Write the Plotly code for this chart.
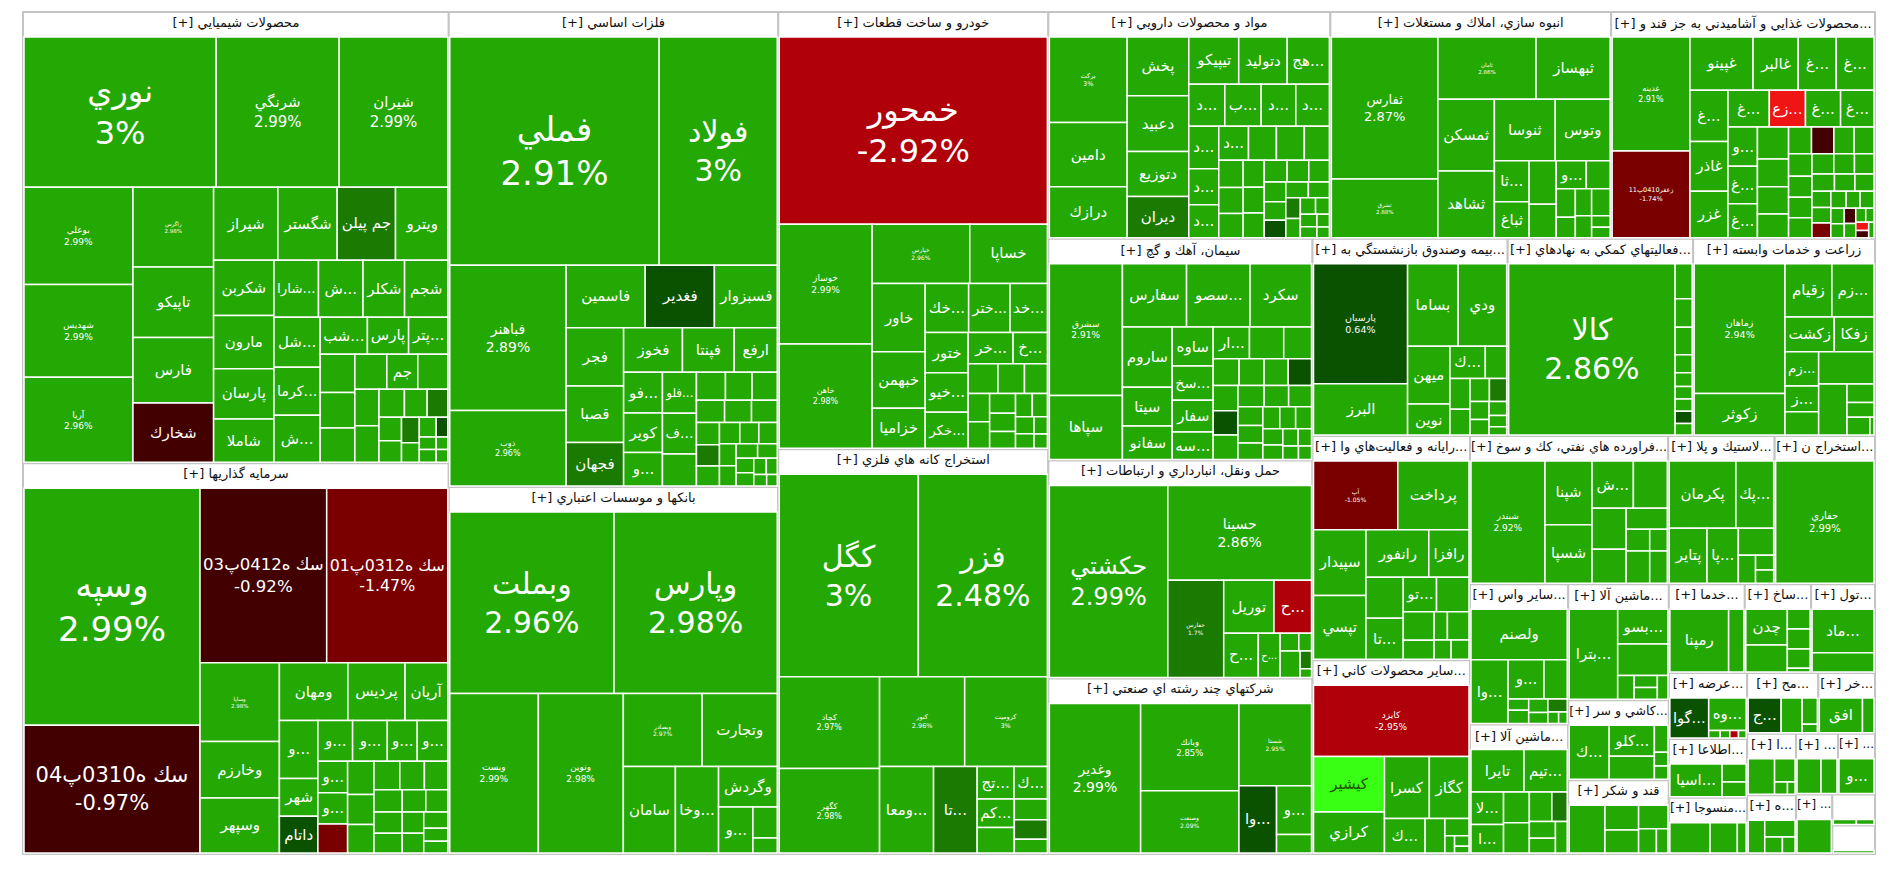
import plotly.graph_objects as go

# ---------------- sectors (header names as shown, relative size) -------------
sector_names = [
    "محصولات شيميايي", "سرمايه گذاريها", "فلزات اساسي", "بانكها و موسسات اعتباري",
    "خودرو و ساخت قطعات", "استخراج كانه هاي فلزي", "مواد و محصولات دارويي",
    "انبوه سازي، املاك و مستغلات", "محصولات غذايي و آشاميدني به جز قند و...",
    "سيمان، آهك و گچ", "حمل ونقل، انبارداري و ارتباطات", "شركتهاي چند رشته اي صنعتي",
    "بيمه وصندوق بازنشستگي به...", "فعاليتهاي كمكي به نهادهاي...", "زراعت و خدمات وابسته",
    "رايانه و فعاليت‌هاي وا...", "ساير محصولات كاني...", "فراورده هاي نفتي، كك و سوخ...",
    "لاستيك و پلا...", "استخراج ن...", "ساير واس...", "ماشين آلا...", "ماشين آلا...",
    "كاشي و سر...", "قند و شكر", "خدما...", "ساخ...", "تول...", "عرضه...", "اطلاعا...",
    "منسوجا...", "مح...", "خر...", "ا...", "ه...", "...", "...", "...", "", "",
]
sector_totals = [
    130944, 113344, 106624, 82416, 80503, 74482, 43571, 43384, 40766, 39894, 39240, 31610,
    26243, 24939, 24450, 24050, 20800, 20008, 10736, 10126, 9396, 8667, 7968, 5478, 5063,
    4599, 4015, 3869, 3520, 3136, 3000, 2950, 2350, 2040, 1960, 1734, 1530, 1470, 900, 830,
]

# ---------------- stocks: (symbol, relative size, % change) ----------------
chem = [
    ("نوري", 28100, 3.0), ("شرنگي", 17970, 2.99), ("شيران", 15870, 2.99),
    ("بوعلي", 10280, 2.99), ("شهديس", 9850, 2.99), ("آريا", 9000, 2.96),
    ("زاگرس", 6240, 2.98), ("تاپيكو", 5530, 2.9), ("فارس", 5135, 2.9), ("شخارك", 4660, -0.9),
    ("شيراز", 4550, 2.9), ("شگستر", 4200, 2.9), ("جم پيلن", 4130, 1.5), ("ويترو", 3700, 2.9),
    ("شكربن", 3245, 2.9), ("مارون", 3127, 2.9), ("پارسان", 2950, 2.9), ("شاملا", 2537, 2.9),
    ("...شارا", 2475, 2.9), ("...ش", 2475, 2.9), ("شكلر", 2310, 2.9), ("شجم", 2400, 2.9),
    ("...شل", 2250, 2.9), ("...كرما", 2160, 2.9), ("...ش", 2115, 2.9),
    ("...شب", 1692, 2.9), ("پارس", 1476, 2.9), ("...پتر", 1404, 2.9),
    ("", 1292, 2.9), ("", 1190, 2.9), ("", 1156, 2.9),
    ("", 1088, 2.9), ("جم", 1054, 2.9), ("", 1020, 2.9),
    ("", 858, 2.9), ("", 858, 2.9), ("", 693, 2.9),
    ("", 620, 2.9), ("", 560, 1.5), ("", 513, 2.9), ("", 475, 2.9),
    ("", 440, 1.5), ("", 340, 2.9), ("", 323, 2.9), ("", 221, 0.5),
    ("", 209, 2.9), ("", 209, 2.9), ("", 143, 2.9), ("", 143, 2.9),
]
chem_pct = {"نوري": 32, "شرنگي": 15, "شيران": 15, "بوعلي": 9, "شهديس": 9, "آريا": 9, "زاگرس": 5.5}

invest = [
    ("وسپه", 237614, 2.99), ("سك ه0310پ04", 128102, -0.97),
    ("سك ه0412پ03", 125984, -0.92), ("سك ه0312پ01", 120396, -1.47),
    ("وساپا", 35568, 2.98), ("وخارزم", 25536, 2.9), ("وسپهر", 24928, 2.9),
    ("ومهان", 22477, 2.9), ("پرديس", 18759, 2.9), ("آريان", 14027, 2.9),
    ("...و", 12728, 2.9), ("شهر", 8288, 2.9), ("داتام", 8066, 0.5),
    ("...و", 8052, 2.9), ("...و", 8052, 2.9), ("...و", 6954, 2.9), ("...و", 7076, 2.9),
    ("...و", 5336, 2.9), ("...و", 5278, 2.9), ("", 4930, -1.5),
    ("", 5000, 2.9), ("", 4500, 2.9), ("", 4300, 2.9), ("", 4200, 2.9), ("", 4000, 2.9),
    ("", 3800, 2.9), ("", 3600, 2.9), ("", 3400, 2.9), ("", 3200, 2.9), ("", 3000, 2.9),
    ("", 2800, 2.9), ("", 2600, 2.9), ("", 2400, 2.9), ("", 2200, 2.9), ("", 1800, 2.9),
    ("", 1600, 2.9),
]
invest_pct = {"وسپه": 34, "سك ه0310پ04": 21, "سك ه0412پ03": 21, "سك ه0312پ01": 21, "وساپا": 5.5}

metal = [
    ("فملي", 353090, 2.91), ("فولاد", 198990, 3.0), ("فباهنر", 125086, 2.89), ("ذوب", 64807, 2.96),
    ("فاسمين", 36600, 2.9), ("فغدير", 32025, 0.5), ("فسبزوار", 29097, 2.9),
    ("فجر", 24675, 2.9), ("قصبا", 23970, 2.9), ("فجهان", 18471, 1.5),
    ("فخوز", 19370, 2.9), ("فپنتا", 17030, 2.9), ("ارفع", 14170, 2.9),
    ("...فو", 11685, 2.9), ("كوير", 11305, 2.9), ("...و", 9595, 2.9),
    ("...فلو", 10290, 2.9), ("...ف", 10192, 2.9), ("", 8036, 2.9),
    ("", 6000, 2.9), ("", 5500, 2.9), ("", 5200, 2.9), ("", 4600, 2.9), ("", 4400, 2.9),
    ("", 4200, 2.9), ("", 3800, 2.9), ("", 3600, 1.5), ("", 3400, 2.9), ("", 3200, 2.9),
    ("", 3000, 2.9), ("", 2900, 2.9), ("", 2700, 2.9), ("", 2500, 2.9), ("", 2300, 2.9),
    ("", 2100, 2.9), ("", 1900, 2.9), ("", 1700, 2.9), ("", 1500, 2.9), ("", 1300, 2.9),
    ("", 1100, 2.9), ("", 900, 2.9),
]
metal_pct = {"فملي": 34, "فولاد": 30, "فباهنر": 14, "ذوب": 8}

bank = [
    ("وبملت", 168432, 2.96), ("وپارس", 167376, 2.98), ("وبست", 79768, 2.99), ("ونوين", 76464, 2.98),
    ("وبصادر", 32436, 2.97), ("وتجارت", 30952, 2.9), ("سامان", 25443, 2.9), ("...وخا", 21074, 2.9),
    ("وگردش", 13455, 2.9), ("...و", 8905, 2.9), ("", 4230, 2.9), ("", 2068, 2.9),
]
bank_pct = {"وبملت": 30, "وپارس": 30, "وبست": 9, "ونوين": 9, "وبصادر": 6}

auto = [
    ("خمحور", 370150, -2.92), ("خوساز", 82080, 2.99), ("خاهن", 71592, 2.98),
    ("خپارس", 42700, 2.96), ("خساپا", 33950, 2.9),
    ("خاور", 26724, 2.9), ("خبهمن", 22139, 2.9), ("خزاميا", 15720, 2.9),
    ("...خك", 15729, 2.9), ("...ختر", 14994, 2.9), ("...خد", 13524, 2.9),
    ("ختور", 12733, 2.9), ("...خيو", 12519, 2.9), ("...خكر", 11449, 2.9),
    ("...خر", 10340, 2.9), ("...خ", 7896, 2.9),
    ("", 6500, 2.9), ("", 5800, 2.9), ("", 5000, 2.9), ("", 4500, 2.9), ("", 4200, 2.9),
    ("", 3800, 2.9), ("", 3500, 2.9), ("", 3200, 2.9), ("", 2900, 2.9), ("", 2600, 2.9),
    ("", 2300, 2.9), ("", 2000, 2.9), ("", 1700, 2.9), ("", 1400, 2.9),
]
auto_pct = {"خمحور": 32, "خوساز": 9, "خاهن": 8, "خپارس": 6}

mine = [
    ("كگل", 236810, 3.0), ("فزر", 219555, 2.48), ("كچاد", 77259, 2.97), ("كگهر", 71316, 2.98),
    ("كنور", 64172, 2.96), ("كروميت", 62331, 3.0), ("...ومعا", 39260, 2.9), ("...تا", 31720, 1.5),
    ("...تج", 10070, 2.9), ("...ك", 9120, 2.9), ("...كم", 8904, 2.9), ("", 7950, 2.9),
    ("", 5760, 2.9), ("", 5376, 1.5), ("", 3840, 2.9),
]
mine_pct = {"كگل": 30, "فزر": 30, "كچاد": 8, "كگهر": 8, "كنور": 6.5, "كروميت": 6.5}

pharma = [
    ("بركت", 55000, 3.0), ("دامين", 41200, 2.9), ("درازك", 32800, 2.9),
    ("پخش", 29929, 2.9), ("دعبيد", 28372, 2.9), ("دتوزيع", 22836, 2.9), ("ديران", 21000, 1.5),
    ("تيپيكو", 19458, 2.9), ("دتوليد", 18906, 2.9), ("...هج", 16422, 2.9),
    ("...د", 12524, 2.9), ("...ب", 12648, 2.9), ("...د", 12028, 2.9), ("...د", 11656, 2.9),
    ("...د", 10492, 2.9), ("...د", 8944, 2.9), ("...د", 8170, 2.9),
    ("...د", 8364, 2.9), ("", 7854, 2.9), ("", 7854, 2.9), ("", 7038, 2.9),
    ("", 5500, 2.9), ("", 5200, 2.9), ("", 4900, 2.9), ("", 4700, 2.9), ("", 4500, 2.9),
    ("", 4300, 2.9), ("", 4100, 2.9), ("", 3900, 2.9), ("", 3700, 2.9), ("", 3500, 2.9),
    ("", 3300, 2.9), ("", 3100, 0.5), ("", 2900, 2.9), ("", 2700, 2.9), ("", 2500, 1.5),
    ("", 2300, 2.9), ("", 2100, 2.9), ("", 1900, 2.9), ("", 1700, 2.9), ("", 1500, 2.9),
    ("", 1300, 2.9), ("", 1100, 2.9),
]
pharma_pct = {"بركت": 6.5}

house = [
    ("ثفارس", 14560, 2.87), ("ثشرق", 6032, 2.88), ("ثامان", 5880, 2.86), ("ثبهساز", 4440, 2.9),
    ("ثمسكن", 3905, 2.9), ("ثشاهد", 3630, 2.9), ("ثنوسا", 3599, 2.9), ("وتوس", 3245, 2.9),
    ("...ثا", 1374, 2.9), ("ثباغ", 1206, 2.9), ("", 1140, 2.9), ("", 875, 2.9),
    ("...و", 812, 2.9), ("", 644, 2.9), ("", 525, 2.9), ("", 375, 2.9), ("", 425, 2.9),
    ("", 483, 2.9), ("", 345, 2.9), ("", 204, 2.9), ("", 187, 2.9),
]
house_pct = {"ثفارس": 13, "ثشرق": 5.5, "ثامان": 5.5}

food = [
    ("غدينه", 75710, 2.91), ("زعفر0410پ11", 57630, -1.74),
    ("غپينو", 28704, 2.9), ("غالبر", 20592, 2.9), ("...غ", 17316, 2.9), ("...غ", 17160, 2.9),
    ("...غ", 16576, 2.9), ("غاذر", 16128, 2.9), ("غزر", 15120, 2.9),
    ("...غ", 12960, 2.9), ("...زع", 11340, -4.0), ("...غ", 11016, 2.9), ("...غ", 10476, 2.9),
    ("...و", 9856, 2.9), ("...غ", 9416, 2.9), ("...غ", 8536, 2.9),
    ("", 8460, 2.9), ("", 7426, 2.9), ("", 7238, 2.9), ("", 6298, 2.9),
    ("", 5208, 2.9), ("", 5084, -0.9), ("", 4588, 2.9), ("", 4526, 2.9), ("", 4526, 2.9),
    ("", 4161, 2.9), ("", 4088, 2.9), ("", 4012, 2.9), ("", 3800, 2.9), ("", 3600, 2.9),
    ("", 3400, 2.9), ("", 3300, 2.9), ("", 3000, 2.9), ("", 2800, 2.9), ("", 2600, 2.9),
    ("", 2500, 2.9), ("", 2378, -1.5), ("", 2200, 2.9), ("", 2000, 2.9), ("", 2000, 2.9),
    ("", 1800, 2.9), ("", 1600, 2.9), ("", 1500, -0.9), ("", 1400, 2.9), ("", 1200, 2.9),
    ("", 1000, 2.9), ("", 900, -4.0), ("", 800, -0.9), ("", 700, 2.9),
]
food_pct = {"غدينه": 8, "زعفر0410پ11": 6.5}

cement = [
    ("سشرق", 83205, 2.91), ("سپاها", 40420, 2.9),
    ("سفارس", 35136, 2.9), ("...سصو", 34770, 2.9), ("سكرد", 33672, 2.9),
    ("ساروم", 25900, 2.9), ("سيتا", 16724, 2.9), ("سفانو", 14356, 2.9),
    ("ساوه", 13786, 2.9), ("...سخ", 12200, 2.9), ("سفار", 11224, 2.9), ("...سه", 9700, 2.9),
    ("...ار", 9951, 2.9), ("", 9393, 2.9), ("", 7626, 2.9),
    ("", 6000, 2.9), ("", 5800, 2.9), ("", 5600, 2.9), ("", 5400, 0.5), ("", 5400, 2.9),
    ("", 5200, 0.5), ("", 5200, 2.9), ("", 4800, 2.9), ("", 4500, 2.9), ("", 4200, 2.9),
    ("", 4000, 2.9), ("", 3800, 2.9), ("", 3500, 2.9), ("", 3200, 2.9), ("", 3000, 2.9),
    ("", 3000, 2.9), ("", 2800, 2.9), ("", 2500, 2.9), ("", 2300, 2.9), ("", 2000, 2.9),
    ("", 1800, 2.9), ("", 1500, 2.9),
]
cement_pct = {"سشرق": 9}

trans = [
    ("حكشتي", 187928, 2.99), ("حسينا", 112560, 2.86), ("حفارس", 44872, 1.7),
    ("توريل", 22046, 2.9), ("...ح", 16459, -2.9), ("...ح", 12610, 2.9), ("...ح", 7954, 2.9),
    ("", 2726, 2.9), ("", 1856, 2.9), ("", 4365, 2.9), ("", 1665, 1.5), ("", 810, 2.9),
]
trans_pct = {"حكشتي": 24, "حسينا": 14, "حفارس": 6}

multi = [
    ("وغدير", 114840, 2.99), ("وبانك", 72165, 2.85), ("وصنعت", 51506, 2.09),
    ("شستا", 50218, 2.95), ("...وا", 21293, 0.5), ("...و", 14342, 2.9), ("", 5454, 2.9),
]
multi_pct = {"وغدير": 14, "وبانك": 8.5, "وصنعت": 6, "شستا": 6}

insur = [
    ("پارسيان", 91520, 0.64), ("البرز", 39000, 2.9), ("بساما", 33840, 2.9), ("ودي", 32400, 2.9),
    ("ميهن", 19824, 2.9), ("نوين", 10620, 2.9), ("...ك", 9216, 2.9), ("", 5568, 2.9),
    ("", 5000, 2.9), ("", 4200, 2.9), ("", 3600, 2.9), ("", 3200, 1.5), ("", 2800, 2.9),
    ("", 2400, 2.9), ("", 2000, 2.9), ("", 1600, 2.9), ("", 1200, 2.9),
]
insur_pct = {"پارسيان": 9.5}

aux = [
    ("كالا", 33345, 2.86), ("", 693, 2.9), ("", 567, 2.9), ("", 546, 2.9), ("", 357, 2.9),
    ("", 273, 2.9), ("", 252, 2.9), ("", 242, 2.9), ("", 242, 0.5), ("", 231, 2.9),
]
aux_pct = {"كالا": 30}

agri = [
    ("زماهان", 98040, 2.94), ("زكوثر", 31476, 2.9), ("زقيام", 20824, 2.9), ("...زم", 18696, 2.9),
    ("زكشت", 14256, 2.9), ("زفكا", 11484, 2.9), ("...زم", 9555, 2.9), ("...ز", 7189, 2.9),
    ("", 6552, 2.9), ("", 14760, 2.9), ("", 12060, 2.9), ("", 4160, 2.9), ("", 3360, 2.9),
    ("", 3380, 2.9), ("", 600, 2.9),
]
agri_pct = {"زماهان": 9.5}

comp = [
    ("آپ", 41535, -1.05), ("پرداخت", 35100, 2.9), ("سپيدار", 24704, 2.9), ("تپسي", 23936, 2.9),
    ("رانفور", 21330, 2.9), ("رافزا", 13635, 2.9), ("", 11011, 2.9), ("...تا", 10920, 2.9),
    ("...تو", 8217, 2.9), ("", 8019, 2.9), ("", 6314, 2.9), ("", 4182, 2.9), ("", 2706, 2.9),
    ("", 4389, 2.9), ("", 2337, 2.9), ("", 2451, 2.9),
]
comp_pct = {"آپ": 6}

mineral = [
    ("كايزد", 79992, -2.95), ("كيشير", 28525, 5.0), ("كرازي", 21000, 2.9), ("كسرا", 20160, 2.9),
    ("كگاز", 17820, 2.9), ("...ك", 10088, 2.9), ("", 4914, 2.9), ("", 3000, 2.9),
    ("", 1200, 2.9), ("", 1080, 2.9), ("", 705, 2.9),
]
mineral_pct = {"كايزد": 9}

petro = [
    ("شبندر", 64610, 2.92), ("شپنا", 21411, 2.9), ("شسپا", 19656, 2.9), ("...ش", 13965, 2.9),
    ("", 11438, 2.9), ("", 10030, 2.9), ("", 8245, 2.9), ("", 6148, 2.9), ("", 3658, 2.9),
    ("", 2728, 2.9), ("", 5428, 2.9), ("", 4048, 2.9),
]
petro_pct = {"شبندر": 9}

rubber = [
    ("پكرمان", 32870, 2.9), ("...پك", 18620, 2.9), ("پتاير", 15200, 2.9), ("...پا", 12640, 2.9),
    ("", 6975, 2.9), ("", 3526, 2.9), ("", 1974, 2.9), ("", 1739, 2.9),
]
oil = [("حفاري", 85200, 2.99)]
oil_pct = {"حفاري": 10}

other_inter = [
    ("ولصنم", 33600, 2.9), ("...وا", 16269, 2.9), ("...و", 9680, 2.9), ("", 6270, 2.9),
    ("", 1591, 2.9), ("", 1887, 2.9), ("", 1776, 2.9), ("", 1462, 2.9), ("", 1734, 1.5),
    ("", 850, 2.9), ("", 680, 2.9),
]
elec_mach = [
    ("تايرا", 15340, 2.9), ("...تيم", 12508, 2.9), ("...لا", 7161, 2.9), ("...ا", 6314, 2.9),
    ("", 5368, 2.9), ("", 5307, 2.9), ("", 4512, 2.9), ("", 3082, 1.5), ("", 2948, 2.9),
    ("", 2622, 2.9), ("", 2508, 2.9),
]
machinery = [
    ("...بترا", 29670, 2.9), ("...بسو", 11875, 2.9), ("", 10750, 2.9), ("", 2660, 2.9),
    ("", 1890, 2.9), ("", 1855, 2.9), ("", 1696, 2.9),
]
tile_ind = [
    ("...ك", 14100, 2.9), ("...كلو", 9156, 2.9), ("", 6758, 2.9), ("", 2376, 2.9),
    ("", 1221, 2.9), ("", 1155, 2.9),
]
sugar = [("", 11088, 2.9), ("", 5427, 2.9), ("", 5022, 2.9), ("", 4464, 2.9), ("", 2814, 2.9), ("", 1809, 2.9)]
services = [("رمپنا", 25431, 2.9), ("", 6574, 2.9)]
metal_prod = [("چدن", 9894, 2.9), ("", 7446, 2.9), ("", 3016, 2.9), ("", 3016, 2.9), ("", 2900, 2.9), ("", 580, 2.9)]
tool = [("...ماد", 18832, 2.9), ("", 8272, 2.9)]
power = [("...گوا", 10670, 0.5), ("...وه", 8352, 2.9), ("", 600, 2.9), ("", 500, 2.9), ("", 450, -2.9), ("", 400, 2.9)]
info = [("...اسيا", 11960, 2.9), ("", 3036, 2.9), ("", 2484, 2.9)]
textile = [("", 8000, 2.9), ("", 5440, 2.9), ("", 1760, 2.9)]
wood = [("...ج", 7360, 0.5), ("", 4692, 2.9), ("", 2546, 2.9), ("", 836, 2.9)]
retail = [("افق", 9660, 2.9), ("", 2576, 2.9)]
sec34 = [("", 6000, 2.9), ("", 3038, 2.9), ("", 1015, 2.9), ("", 595, 2.9)]
sec35 = [("", 3420, 2.9), ("", 3230, 2.9), ("", 1768, 2.9), ("", 1258, 2.9)]
sec36 = [("", 5700, 2.9), ("", 3800, 2.9)]
sec37 = [("...و", 8700, 2.9)]
sec38 = [("", 7980, 2.9)]
sec39 = [("", 3960, 2.9), ("", 3024, 2.9)]
sec40 = [("", 2200, 2.9)]

leaf_tables = [chem, invest, metal, bank, auto, mine, pharma, house, food, cement, trans, multi,
               insur, aux, agri, comp, mineral, petro, rubber, oil, other_inter, elec_mach,
               machinery, tile_ind, sugar, services, metal_prod, tool, power, info, textile,
               wood, retail, sec34, sec35, sec36, sec37, sec38, sec39, sec40]
pct_fonts = [chem_pct, invest_pct, metal_pct, bank_pct, auto_pct, mine_pct, pharma_pct, house_pct,
             food_pct, cement_pct, trans_pct, multi_pct, insur_pct, aux_pct, agri_pct, comp_pct,
             mineral_pct, petro_pct, {}, oil_pct] + [{}] * 20


def tile_color(c):
    if c >= 3.5:
        return "#39ff14"
    if c >= 2:
        return "#24a803"
    if c >= 1:
        return "#1b7a01"
    if c >= 0:
        return "#0b5200"
    if c > -1:
        return "#420000"
    if c > -2:
        return "#7a0000"
    if c > -3.5:
        return "#b0000a"
    return "#f01515"


LRM = "\u200e"  # headers use a left-to-right base, as on the original page


def leaf_label(name):
    # tile symbols run right-to-left; the truncation mark sits at the logical end
    if name.startswith("..."):
        return name[3:] + "..."
    return name


def header_label(name):
    if not name:
        return " "
    return LRM + "[+] " + name


ids, labels, parents, values, texts = [], [], [], [], []
colors, fsizes, fcolors, lcolors, lwidths = [], [], [], [], []

for i, (sname, stotal) in enumerate(zip(sector_names, sector_totals)):
    sid = f"s{i}"
    header = header_label(sname)
    ids.append(sid)
    labels.append(header)
    parents.append("")
    values.append(0)
    texts.append(header)
    colors.append("#ffffff")
    fsizes.append(13)
    fcolors.append("#111111")
    lcolors.append("#c4c4c4")
    lwidths.append(2)
    table = leaf_tables[i]
    wsum = sum(v for _, v, _ in table)
    shown = pct_fonts[i]
    for j, (name, v, chg) in enumerate(table):
        lid = f"{sid}_{j}"
        ids.append(lid)
        labels.append(lid)
        parents.append(sid)
        values.append(stotal * v / wsum)
        if name in shown:
            texts.append(f"{name}<br>{chg:g}%")
            fsizes.append(shown[name])
        else:
            texts.append(leaf_label(name))
            fsizes.append(15)
        colors.append(tile_color(chg))
        fcolors.append("#1f4f00" if chg >= 3.5 else "#ffffff")
        lcolors.append("#ffffff")
        lwidths.append(1.5)

fig = go.Figure(go.Treemap(
    ids=ids, labels=labels, parents=parents, values=values,
    branchvalues="remainder", sort=False,
    text=texts, texttemplate="%{text}", textposition="middle center",
    textfont=dict(family="DejaVu Sans", size=fsizes, color=fcolors),
    marker=dict(colors=colors, line=dict(color=lcolors, width=lwidths),
                pad=dict(t=25, l=1, r=1, b=1)),
    tiling=dict(packing="squarify", pad=0),
    pathbar=dict(visible=False),
    root=dict(color="#ffffff"),
    hoverinfo="skip",
))
# the hidden top-level node keeps a 25px header band; the page is nudged up so that
# band sits above the window and the sector grid starts 12px from the top
fig.update_layout(width=1900, height=868, margin=dict(l=22, r=24, t=0, b=0),
                  paper_bgcolor="#ffffff")
fig.write_html(
    "out.html",
    config={"displayModeBar": False},
    post_script=("document.body.style.margin='0';"
                 "document.getElementById('{plot_id}').style.marginTop='-13px';"),
)
